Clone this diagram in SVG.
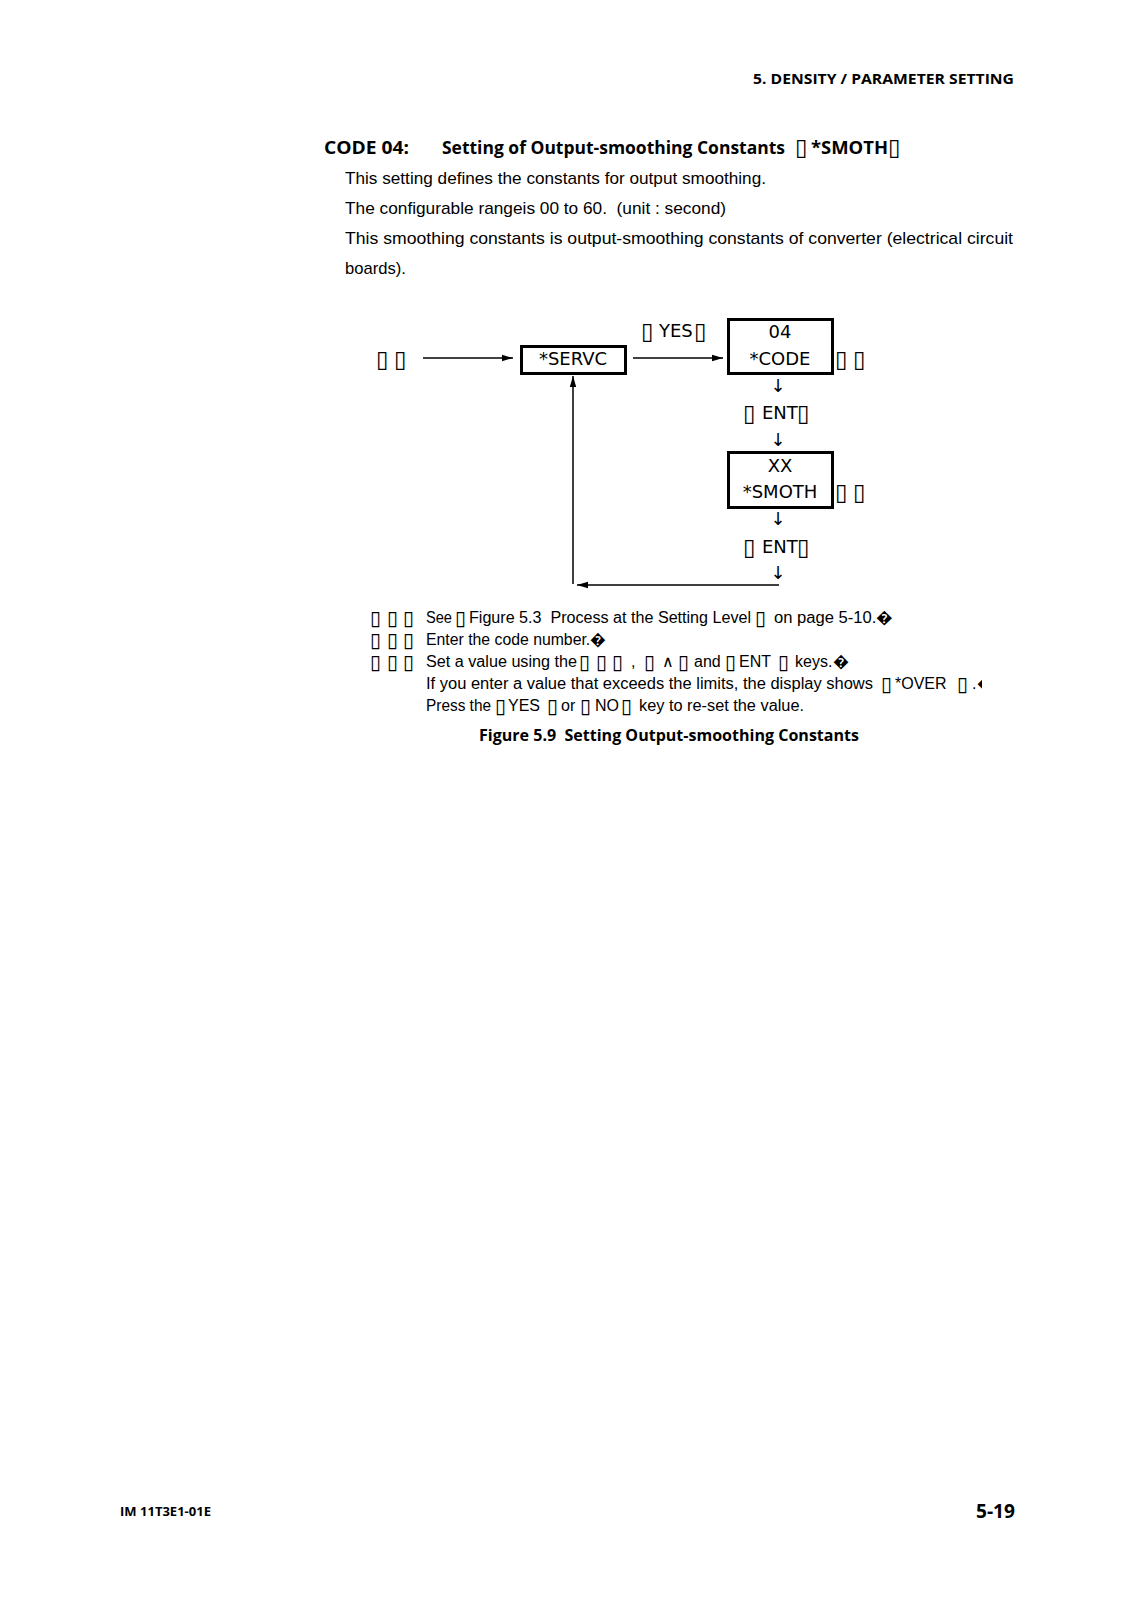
<svg xmlns="http://www.w3.org/2000/svg" width="1131" height="1600" viewBox="0 0 1131 1600">
<style>
.bg{fill:#fff}
.hb{font-family:"Open Sans","Liberation Sans",sans-serif;font-weight:700;fill:#000}
.b{font-family:"Liberation Sans",Arial,sans-serif;font-size:17px;fill:#000}
.n{font-family:"Liberation Sans",Arial,sans-serif;font-size:16px;fill:#000}
.d{font-family:"DejaVu Sans",sans-serif;font-size:18px;fill:#000}
.t{font-family:"DejaVu Sans",sans-serif;font-size:23px;font-weight:400;fill:#000}
.tn{font-family:"DejaVu Sans",sans-serif;font-size:20px;font-weight:400;fill:#000}
.box{fill:#fff;stroke:#000;stroke-width:3}
.ln{fill:none;stroke:#000;stroke-width:1.5}
</style>
<defs>
<marker id="ah" markerWidth="12" markerHeight="8" refX="11" refY="4" orient="auto" markerUnits="userSpaceOnUse">
<path d="M0,0.8 L11,4 L0,7.2 Z" fill="#000"/>
</marker>
<clipPath id="clipR"><rect x="0" y="0" width="982" height="1600"/></clipPath>
</defs>
<rect class="bg" x="0" y="0" width="1131" height="1600"/>

<g id="header">
<text class="hb" x="753" y="84" font-size="14" textLength="261" lengthAdjust="spacingAndGlyphs">5. DENSITY / PARAMETER SETTING</text>
</g>

<g id="title">
<text class="hb" x="324" y="154" font-size="18" textLength="85" lengthAdjust="spacingAndGlyphs">CODE 04:</text>
<text class="hb" x="442" y="154" font-size="18" textLength="343" lengthAdjust="spacingAndGlyphs">Setting of Output-smoothing Constants</text>
<text class="t" x="795" y="155">▯</text>
<text class="hb" x="811" y="154" font-size="18" textLength="77" lengthAdjust="spacingAndGlyphs">*SMOTH</text>
<text class="t" x="888" y="155">▯</text>
</g>

<g id="body">
<text class="b" x="345" y="184" textLength="421" lengthAdjust="spacingAndGlyphs">This setting defines the constants for output smoothing.</text>
<text class="b" x="345" y="214" textLength="381" lengthAdjust="spacingAndGlyphs" xml:space="preserve">The configurable rangeis 00 to 60.  (unit : second)</text>
<text class="b" x="345" y="244" textLength="668" lengthAdjust="spacingAndGlyphs">This smoothing constants is output-smoothing constants of converter (electrical circuit</text>
<text class="b" x="345" y="274" textLength="61" lengthAdjust="spacingAndGlyphs">boards).</text>
</g>

<g id="connectors">
<line class="ln" x1="423" y1="358" x2="513" y2="358" marker-end="url(#ah)"/>
<line class="ln" x1="633" y1="358" x2="723" y2="358" marker-end="url(#ah)"/>
<line class="ln" x1="779" y1="585" x2="577" y2="585" marker-end="url(#ah)"/>
<line class="ln" x1="573" y1="584" x2="573" y2="376" marker-end="url(#ah)"/>
</g>

<g id="start-label">
<text class="t" y="367"><tspan x="376">▯</tspan><tspan x="394">▯</tspan></text>
</g>

<g id="node-servc">
<rect class="box" x="521.5" y="346.5" width="104" height="27"/>
<text class="d" x="573" y="365" text-anchor="middle">*SERVC</text>
</g>

<g id="label-yes">
<text class="t" x="641" y="339">▯</text>
<text class="d" x="659" y="337">YES</text>
<text class="t" x="694" y="339">▯</text>
</g>

<g id="node-code">
<rect class="box" x="728.5" y="319.5" width="104" height="54"/>
<text class="d" x="780" y="338" text-anchor="middle">04</text>
<text class="d" x="780" y="365" text-anchor="middle">*CODE</text>
<text class="t" y="367"><tspan x="835">▯</tspan><tspan x="853">▯</tspan></text>
</g>

<g id="step-ent1">
<text class="d" x="778" y="392" text-anchor="middle" font-size="16">↓</text>
<text class="t" x="743" y="421">▯</text>
<text class="d" x="762" y="419">ENT</text>
<text class="t" x="797" y="421">▯</text>
<text class="d" x="778" y="446" text-anchor="middle" font-size="16">↓</text>
</g>

<g id="node-smoth">
<rect class="box" x="728.5" y="452.5" width="104" height="55"/>
<text class="d" x="780" y="472" text-anchor="middle">XX</text>
<text class="d" x="780" y="498" text-anchor="middle">*SMOTH</text>
<text class="t" y="500"><tspan x="835">▯</tspan><tspan x="853">▯</tspan></text>
</g>

<g id="step-ent2">
<text class="d" x="778" y="525" text-anchor="middle" font-size="16">↓</text>
<text class="t" x="743" y="555">▯</text>
<text class="d" x="762" y="553">ENT</text>
<text class="t" x="797" y="555">▯</text>
<text class="d" x="778" y="579" text-anchor="middle" font-size="16">↓</text>
</g>

<g id="notes">
<text class="tn" y="625"><tspan x="370">▯</tspan><tspan x="387">▯</tspan><tspan x="403">▯</tspan></text>
<text class="n" y="623"><tspan x="426" textLength="26" lengthAdjust="spacingAndGlyphs">See</tspan><tspan class="tn" x="455" y="625">▯</tspan><tspan x="469" y="623" textLength="282" lengthAdjust="spacingAndGlyphs" xml:space="preserve">Figure 5.3  Process at the Setting Level</tspan><tspan class="tn" x="755" y="625">▯</tspan><tspan x="774" y="623" textLength="119" lengthAdjust="spacingAndGlyphs">on page 5-10.�</tspan></text>

<text class="tn" y="647"><tspan x="370">▯</tspan><tspan x="387">▯</tspan><tspan x="403">▯</tspan></text>
<text class="n" x="426" y="645" textLength="180" lengthAdjust="spacingAndGlyphs">Enter the code number.�</text>

<text class="tn" y="669"><tspan x="370">▯</tspan><tspan x="387">▯</tspan><tspan x="403">▯</tspan></text>
<text class="n" y="667"><tspan x="426" textLength="151" lengthAdjust="spacingAndGlyphs">Set a value using the</tspan><tspan class="tn" x="579" y="669">▯</tspan><tspan class="tn" x="596" y="669">▯</tspan><tspan class="tn" x="612" y="669">▯</tspan><tspan x="631" y="667">,</tspan><tspan class="tn" x="644" y="669">▯</tspan><tspan x="662" y="667">∧</tspan><tspan class="tn" x="678" y="669">▯</tspan><tspan x="694" y="667">and</tspan><tspan class="tn" x="725" y="669">▯</tspan><tspan x="739" y="667">ENT</tspan><tspan class="tn" x="778" y="669">▯</tspan><tspan x="795" y="667">keys.</tspan><tspan x="833">�</tspan></text>

<text class="n" y="689"><tspan x="426" textLength="447" lengthAdjust="spacingAndGlyphs">If you enter a value that exceeds the limits, the display shows</tspan><tspan class="tn" x="881" y="691">▯</tspan><tspan x="895" y="689">*OVER</tspan><tspan class="tn" x="957" y="691">▯</tspan><tspan x="972" y="689">.</tspan></text>
<text class="n" x="977" y="689" clip-path="url(#clipR)">�</text>

<text class="n" y="711"><tspan x="426" textLength="65" lengthAdjust="spacingAndGlyphs">Press the</tspan><tspan class="tn" x="495" y="713">▯</tspan><tspan x="508" y="711">YES</tspan><tspan class="tn" x="547" y="713">▯</tspan><tspan x="561" y="711">or</tspan><tspan class="tn" x="580" y="713">▯</tspan><tspan x="595" y="711">NO</tspan><tspan class="tn" x="621" y="713">▯</tspan><tspan x="639" y="711" textLength="165" lengthAdjust="spacingAndGlyphs">key to re-set the value.</tspan></text>
</g>

<g id="caption">
<text class="hb" x="479" y="741" font-size="16" textLength="380" lengthAdjust="spacingAndGlyphs" xml:space="preserve">Figure 5.9  Setting Output-smoothing Constants</text>
</g>

<g id="footer">
<text class="hb" x="120" y="1516" font-size="12" textLength="91" lengthAdjust="spacingAndGlyphs">IM 11T3E1-01E</text>
<text class="hb" x="976" y="1518" font-size="20" textLength="39" lengthAdjust="spacingAndGlyphs">5-19</text>
</g>
</svg>
